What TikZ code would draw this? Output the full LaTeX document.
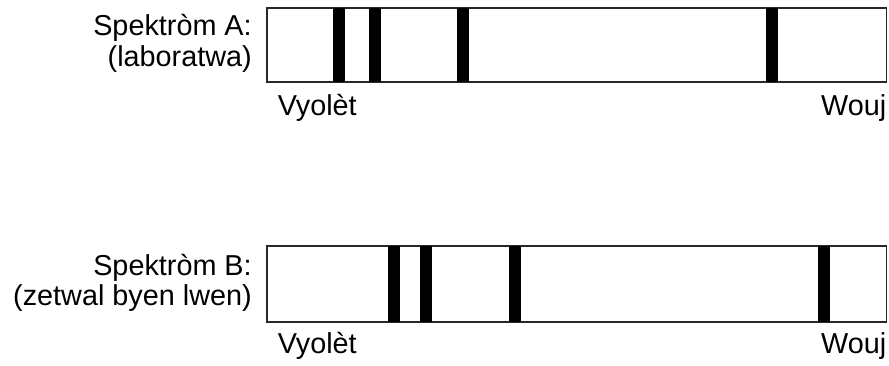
\documentclass[tikz,border=0pt]{standalone}
\usepackage{fontspec}
\setmainfont{Liberation Sans}

\begin{document}
\begin{tikzpicture}[x=0.75pt,y=0.75pt,yscale=-1,xscale=1,
  lbl/.style={inner sep=0pt,font=\fontsize{21.6}{23.25}\selectfont},
  specbox/.style={draw={rgb, 255:red, 40; green, 40; blue, 40 },line width=0.9},
  specline/.style={fill=black}]
%set diagram left start at 0, and has height of 366
\useasboundingbox (0,0) rectangle (889,366);

%Shape: Rectangle [id:specA]
\draw [specbox] (267,8) rectangle (886.5,82) ;
%Shapes: Lines in spectrum A
\foreach \x in {339,375,463,772}
  \fill [specline] (\x-6.3,8) rectangle (\x+6.3,82) ;

%Shape: Rectangle [id:specB]
\draw [specbox] (267,246) rectangle (886.5,322) ;
%Shapes: Lines in spectrum B
\foreach \x in {394,426,515,824}
  \fill [specline] (\x-6.3,246) rectangle (\x+6.3,322) ;

% Text Node
\node (titleA) [lbl,anchor=base east] at (252,36) {Spektròm A:};
% Text Node
\node (subA) [lbl,anchor=base east] at (252,67) {(laboratwa)};
% Text Node
\node (violetA) [lbl,anchor=base west] at (277.5,116) {Vyolèt};
% Text Node
\node (redA) [lbl,anchor=base east] at (886.5,116) {Wouj};

% Text Node
\node (titleB) [lbl,anchor=base east] at (252,276) {Spektròm B:};
% Text Node
\node (subB) [lbl,anchor=base east] at (252,306) {(zetwal byen lwen)};
% Text Node
\node (violetB) [lbl,anchor=base west] at (277.5,354) {Vyolèt};
% Text Node
\node (redB) [lbl,anchor=base east] at (886.5,354) {Wouj};

\end{tikzpicture}
\end{document}
